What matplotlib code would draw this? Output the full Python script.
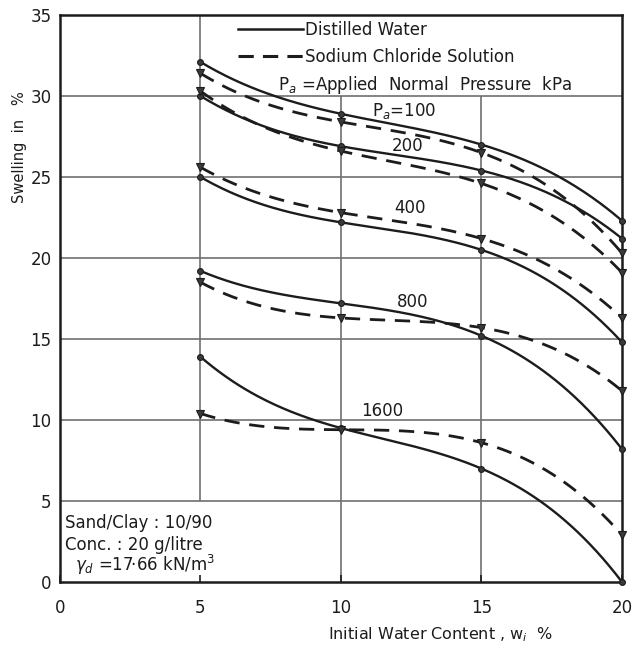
import numpy as np
import matplotlib
matplotlib.use("Agg")
import matplotlib.pyplot as plt
from matplotlib.lines import Line2D

# Initial water content (%) at which swelling was measured
water_content = [5, 10, 15, 20]
pressures = [100, 200, 400, 800, 1600]

# Swelling (%) with distilled water
distilled_100 = [32.1, 28.9, 27.0, 22.3]
distilled_200 = [30.0, 26.9, 25.4, 21.2]
distilled_400 = [25.0, 22.2, 20.5, 14.8]
distilled_800 = [19.2, 17.2, 15.2, 8.2]
distilled_1600 = [13.9, 9.5, 7.0, 0.0]

# Swelling (%) with sodium chloride solution
nacl_100 = [31.4, 28.4, 26.5, 20.3]
nacl_200 = [30.3, 26.6, 24.6, 19.1]
nacl_400 = [25.6, 22.8, 21.2, 16.3]
nacl_800 = [18.5, 16.3, 15.7, 11.8]
nacl_1600 = [10.4, 9.4, 8.6, 2.9]

x_ticks = [0, 5, 10, 15, 20]
y_ticks = [0, 5, 10, 15, 20, 25, 30, 35]

distilled = [distilled_100, distilled_200, distilled_400, distilled_800, distilled_1600]
nacl = [nacl_100, nacl_200, nacl_400, nacl_800, nacl_1600]

INK = "#1c1c1c"
GRID = "#707070"
FONT = "DejaVu Sans"

fig = plt.figure(figsize=(6.35, 6.53), dpi=100)
ax = fig.add_axes([60 / 635, 1 - 582 / 653, 562 / 635, 567 / 653])
ax.set_xlim(0, 20)
ax.set_ylim(0, 35)

# grid: horizontal lines across, verticals clipped by legend and note boxes
for yv in y_ticks[1:-1]:
    ax.hlines(yv, 0, 20, color=GRID, lw=1.2, zorder=1)
ax.vlines(5, 5, 35, color=GRID, lw=1.2, zorder=1)
for xv in x_ticks[2:-1]:
    ax.vlines(xv, 0, 30, color=GRID, lw=1.2, zorder=1)


def smooth(xs, ys):
    coeffs = np.polyfit(xs, ys, 3)
    xf = np.linspace(min(xs), max(xs), 200)
    return xf, np.polyval(coeffs, xf)


for ys in distilled:
    xf, yf = smooth(water_content, ys)
    ax.plot(xf, yf, color=INK, lw=1.7, solid_capstyle="round", zorder=3)
    ax.plot(water_content, ys, ls="none", marker="o", ms=4.2, mfc="#3a3a3a",
            mec=INK, mew=0.8, zorder=4, clip_on=False)

for ys in nacl:
    xf, yf = smooth(water_content, ys)
    ax.plot(xf, yf, color=INK, lw=2.0, dashes=(5.5, 3.5), zorder=3)
    ax.plot(water_content, ys, ls="none", marker="v", ms=6, mfc="#3a3a3a",
            mec=INK, mew=0.8, zorder=4, clip_on=False)

# pressure labels beside the curves
label_kw = dict(fontsize=12, family=FONT, color=INK, va="center", ha="left", zorder=5)
ax.text(11.1, 29.1, "P$_a$=100", **label_kw)
ax.text(11.8, 26.9, "200", **label_kw)
ax.text(11.9, 23.1, "400", **label_kw)
ax.text(12.0, 17.3, "800", **label_kw)
ax.text(10.7, 10.55, "1600", **label_kw)

# legend
handles = [Line2D([], [], color=INK, lw=1.8),
           Line2D([], [], color=INK, lw=2.2, dashes=(5, 3))]
leg = ax.legend(handles, ["Distilled Water", "Sodium Chloride Solution"],
                loc="upper left", bbox_to_anchor=(0.3167, 0.99), frameon=False,
                prop=dict(family=FONT, size=12), handlelength=3.9,
                handletextpad=0.15, labelspacing=0.55, borderpad=0,
                borderaxespad=0)
for t in leg.get_texts():
    t.set_color(INK)
ax.text(7.76, 30.7, "P$_a$ =Applied  Normal  Pressure  kPa", fontsize=12,
        family=FONT, color=INK, va="center", ha="left")

# specimen note
note_kw = dict(fontsize=12, family=FONT, color=INK, va="center", ha="left")
ax.text(0.18, (582 - 523) / 16.2, "Sand/Clay : 10/90", **note_kw)
ax.text(0.18, (582 - 545) / 16.2, "Conc. : 20 g/litre", **note_kw)
ax.text(0.55, (582 - 565) / 16.2, r"$\gamma_d$ =17·66 kN/m$^{3}$", **note_kw)

ax.set_xticks(x_ticks)
ax.set_yticks(y_ticks)
ax.tick_params(axis="x", direction="in", length=5, width=1.2, pad=12,
               labelsize=12, colors=INK)
ax.tick_params(axis="y", direction="in", length=0, pad=6, labelsize=12,
               colors=INK)
for lab in ax.get_xticklabels() + ax.get_yticklabels():
    lab.set_family(FONT)
for sp in ax.spines.values():
    sp.set_linewidth(1.8)
    sp.set_color(INK)

fig.text(0.031, 1 - 147 / 653, "Swelling  in   %", rotation=90, fontsize=10.5,
         family=FONT, color=INK, ha="center", va="center")
fig.text(441 / 635, 1 - 635 / 653, "Initial Water Content , w$_i$  %",
         fontsize=11.5, family=FONT, color=INK, ha="center", va="center")

fig.savefig("out.png", dpi=100, facecolor="white")
